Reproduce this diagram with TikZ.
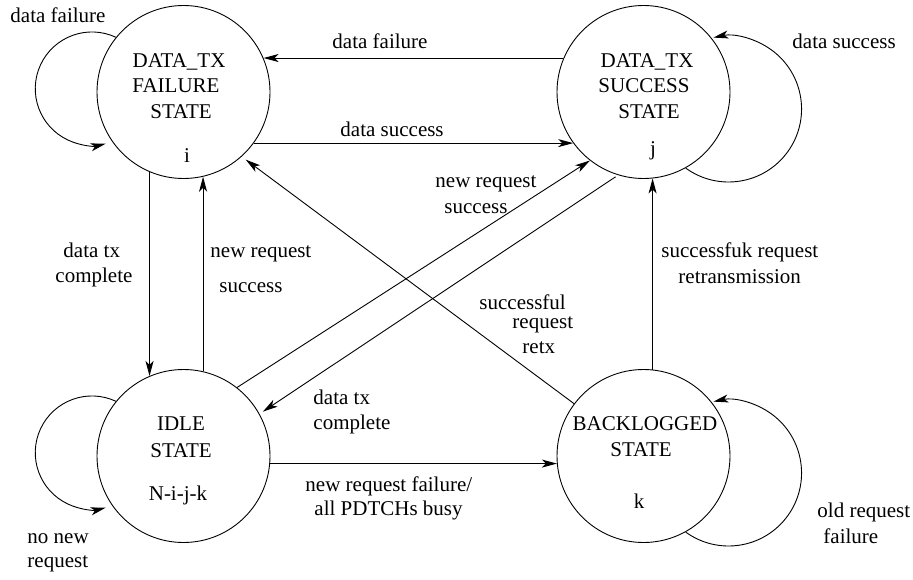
\documentclass[tikz,border=0pt]{standalone}
\usepackage{fontspec}
\setmainfont{Liberation Serif}
\usetikzlibrary{arrows.meta}
\newcommand\stfont{\fontsize{21}{25}\selectfont}
\begin{document}
\begin{tikzpicture}[x=1pt, y=-1pt, line width=0.9pt,
  state/.style={draw, circle, minimum size=173pt, inner sep=0pt},
  stx/.style={anchor=base, inner sep=0pt, font=\stfont},
  lbl/.style={anchor=base west, inner sep=0pt, font=\stfont},
  arr/.style={-{Stealth[length=15pt, width=8pt, inset=4pt]}}]
\useasboundingbox (0,0) rectangle (913,579);

% states
\node[state] (F) at (183.5,92) {};
\node[state] (S) at (643.5,92) {};
\node[state] (I) at (183.5,456) {};
\node[state] (B) at (643.5,456) {};

% state texts
\node[stx] (f1) at (179,67) {DATA\_TX};
\node[stx] (f2) at (176,92) {FAILURE};
\node[stx] (f3) at (181,118) {STATE};
\node[stx] (f4) at (187,162) {i};

\node[stx] (s1) at (647,67) {DATA\_TX};
\node[stx] (s2) at (644,92) {SUCCESS};
\node[stx] (s3) at (649,118) {STATE};
\node[stx] (s4) at (653,155) {j};

\node[stx] (i1) at (181,430) {IDLE};
\node[stx] (i2) at (181,457) {STATE};
\node[stx] (i3) at (178,500) {N-i-j-k};

\node[stx] (b1) at (645,430) {BACKLOGGED};
\node[stx] (b2) at (641,456) {STATE};
\node[stx] (b3) at (639,508) {k};

% transitions between states
\draw[arr] (F.-36.7) -- (S.216.7);
\draw[arr] (S.157) -- (F.23);
\draw[arr] (F.-113.7) -- (I.113.7);
\draw[arr] (I.77.7) -- (F.-77.7);
\draw[arr] (I.52.6) -- (S.232.6);
\draw[arr, shorten <=3pt, shorten >=4pt] (S.253) -- (I.29);
\draw[arr, shorten >=5pt] (B.143) -- (F.-48.7);
\draw[arr] (B.84.4) -- (S.-84.4);
\draw[arr] (I.-5.9) -- (B.185.9);

% self loops
\draw[arr] (F.141.7) arc[start angle=-65, end angle=-284, radius=56.7];
\draw[arr] (I.141.7) arc[start angle=-65, end angle=-284, radius=56.7];
\draw[arr] (S.-61) arc[start angle=126, end angle=-102, radius=73];
\draw[arr] (B.-61) arc[start angle=126, end angle=-102, radius=73];

% transition labels
\node[lbl] (lff) at (10,22) {data failure};
\node[lbl] (lsf) at (332,48) {data failure};
\node[lbl] (lss) at (792,48) {data success};
\node[lbl] (lfs) at (340,136) {data success};

\node[lbl] (lfi1) at (63,257) {data tx};
\node[lbl] (lfi2) at (55,282) {complete};

\node[lbl] (lif1) at (210,257) {new request};
\node[lbl] (lif2) at (219,292) {success};

\node[lbl] (lis1) at (435,187) {new request};
\node[lbl] (lis2) at (444,213) {success};

\node[lbl] (lbf1) at (479,309) {successful};
\node[lbl] (lbf2) at (512,328) {request};
\node[lbl] (lbf3) at (522,353) {retx};

\node[lbl] (lbs1) at (661,257) {successfuk request};
\node[lbl] (lbs2) at (678,283) {retransmission};

\node[lbl] (lsi1) at (313,404) {data tx};
\node[lbl] (lsi2) at (313,429) {complete};

\node[lbl] (lib1) at (305,491) {new request failure/};
\node[lbl] (lib2) at (314,515) {all PDTCHs busy};

\node[lbl] (lii1) at (27,543) {no new};
\node[lbl] (lii2) at (27,567) {request};

\node[lbl] (lbb1) at (817,517) {old request};
\node[lbl] (lbb2) at (823,543) {failure};
\end{tikzpicture}
\end{document}
